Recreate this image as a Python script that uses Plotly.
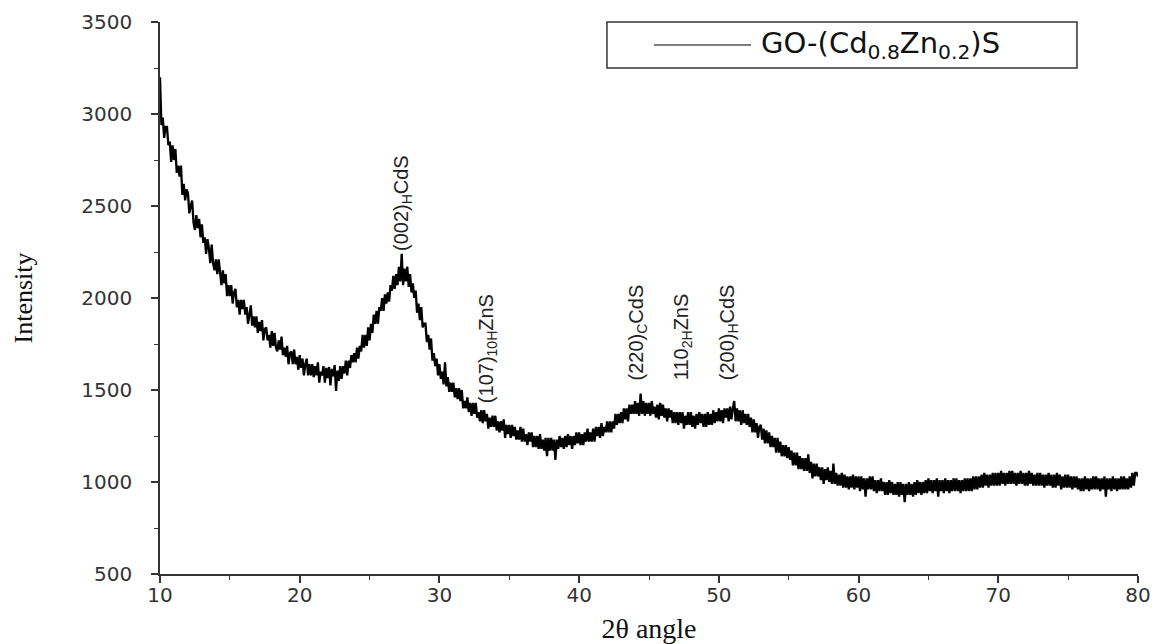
import plotly.graph_objects as go

# 2-theta positions (0.1 degree steps from 10 to 80)
two_theta = [round(10 + 0.1 * i, 1) for i in range(701)]

# Intensity values (noisy trace), 10 per degree
intensity = [
    3200, 2940, 2980, 2870, 2930, 2930, 2830, 2850, 2740, 2830,   # 10
    2750, 2810, 2680, 2720, 2660, 2720, 2560, 2620, 2530, 2590,   # 11
    2570, 2460, 2500, 2530, 2410, 2370, 2450, 2380, 2430, 2330,   # 12
    2400, 2300, 2330, 2240, 2320, 2270, 2190, 2290, 2190, 2150,   # 13
    2210, 2130, 2210, 2120, 2070, 2150, 2080, 2130, 2010, 2070,   # 14
    2010, 2070, 1970, 2030, 2050, 1950, 1990, 1910, 1990, 1940,   # 15
    1990, 1910, 1950, 1860, 1910, 1960, 1850, 1900, 1840, 1900,   # 16
    1810, 1870, 1820, 1880, 1770, 1830, 1840, 1770, 1800, 1730,   # 17
    1820, 1740, 1810, 1730, 1710, 1770, 1720, 1790, 1690, 1730,   # 18
    1680, 1740, 1640, 1700, 1710, 1640, 1720, 1640, 1680, 1610,   # 19
    1690, 1620, 1670, 1580, 1640, 1670, 1580, 1640, 1580, 1640,   # 20
    1570, 1630, 1580, 1650, 1540, 1600, 1580, 1630, 1540, 1620,   # 21
    1565, 1625, 1525, 1615, 1575, 1635, 1495, 1605, 1550, 1630,   # 22
    1560, 1630, 1590, 1660, 1580, 1660, 1620, 1690, 1650, 1700,   # 23
    1650, 1730, 1670, 1740, 1710, 1800, 1730, 1800, 1740, 1840,   # 24
    1770, 1860, 1810, 1910, 1860, 1930, 1860, 1950, 1930, 2000,   # 25
    1930, 2020, 1970, 2030, 1980, 2070, 2040, 2120, 2050, 2130,   # 26
    2070, 2170, 2090, 2240, 2070, 2160, 2090, 2170, 2060, 2130,   # 27
    2030, 2080, 2000, 2040, 1920, 1970, 1880, 1950, 1840, 1860,   # 28
    1860, 1760, 1800, 1720, 1780, 1660, 1700, 1630, 1670, 1580,   # 29
    1640, 1560, 1600, 1530, 1650, 1520, 1570, 1490, 1540, 1490,   # 30
    1540, 1460, 1510, 1450, 1510, 1440, 1500, 1400, 1440, 1400,   # 31
    1460, 1380, 1430, 1360, 1430, 1370, 1430, 1350, 1380, 1330,   # 32
    1390, 1320, 1390, 1330, 1370, 1290, 1350, 1300, 1360, 1300,   # 33
    1360, 1280, 1330, 1270, 1330, 1280, 1340, 1240, 1310, 1260,   # 34
    1310, 1240, 1310, 1250, 1300, 1230, 1280, 1230, 1300, 1220,   # 35
    1290, 1220, 1260, 1200, 1270, 1220, 1270, 1190, 1250, 1190,   # 36
    1250, 1180, 1260, 1180, 1230, 1170, 1240, 1140, 1240, 1170,   # 37
    1240, 1170, 1230, 1120, 1230, 1180, 1250, 1190, 1240, 1180,   # 38
    1250, 1190, 1260, 1200, 1250, 1180, 1250, 1200, 1270, 1210,   # 39
    1270, 1200, 1260, 1200, 1270, 1220, 1290, 1220, 1270, 1220,   # 40
    1290, 1220, 1300, 1250, 1300, 1240, 1320, 1250, 1300, 1270,   # 41
    1330, 1270, 1330, 1270, 1330, 1290, 1370, 1310, 1370, 1320,   # 42
    1380, 1320, 1400, 1340, 1400, 1330, 1420, 1370, 1420, 1370,   # 43
    1440, 1370, 1430, 1360, 1480, 1370, 1440, 1360, 1430, 1370,   # 44
    1430, 1360, 1440, 1370, 1410, 1350, 1420, 1340, 1430, 1360,   # 45
    1420, 1350, 1400, 1330, 1400, 1350, 1390, 1320, 1380, 1320,   # 46
    1380, 1310, 1380, 1320, 1380, 1290, 1360, 1310, 1380, 1310,   # 47
    1380, 1300, 1360, 1290, 1370, 1310, 1380, 1320, 1370, 1300,   # 48
    1370, 1300, 1380, 1310, 1370, 1310, 1390, 1320, 1380, 1330,   # 49
    1400, 1330, 1390, 1320, 1400, 1350, 1400, 1330, 1410, 1340,   # 50
    1400, 1440, 1330, 1400, 1330, 1390, 1310, 1390, 1320, 1370,   # 51
    1310, 1370, 1300, 1350, 1270, 1340, 1270, 1320, 1240, 1300,   # 52
    1310, 1230, 1290, 1210, 1280, 1210, 1270, 1190, 1250, 1190,   # 53
    1240, 1160, 1240, 1160, 1220, 1140, 1200, 1140, 1200, 1130,   # 54
    1190, 1120, 1170, 1090, 1160, 1090, 1160, 1070, 1140, 1070,   # 55
    1130, 1060, 1130, 1060, 1150, 1050, 1110, 1020, 1100, 1030,   # 56
    1100, 1030, 1080, 1010, 1080, 990, 1070, 1010, 1080, 1000,    # 57
    1060, 990, 1100, 990, 1050, 980, 1040, 980, 1050, 970,        # 58
    1040, 970, 1030, 960, 1030, 970, 1040, 960, 1030, 970,        # 59
    1030, 950, 1030, 960, 1020, 920, 1020, 960, 1030, 960,        # 60
    1030, 950, 1010, 940, 1010, 950, 1020, 950, 1000, 930,        # 61
    1000, 930, 1010, 940, 1000, 930, 990, 930, 1000, 920,         # 62
    1000, 930, 990, 890, 990, 930, 1000, 930, 990, 920,           # 63
    1000, 930, 1010, 940, 1000, 930, 1000, 940, 1010, 940,        # 64
    1020, 950, 1010, 940, 1010, 950, 1020, 920, 1010, 950,        # 65
    1010, 940, 1020, 950, 1010, 940, 1010, 950, 1020, 950,        # 66
    1020, 950, 1010, 940, 1010, 950, 1020, 950, 1020, 950,        # 67
    1020, 950, 1030, 960, 1030, 960, 1030, 970, 1040, 970,        # 68
    1050, 980, 1040, 970, 1040, 980, 1050, 980, 1050, 980,        # 69
    1050, 980, 1060, 990, 1050, 980, 1050, 990, 1060, 990,        # 70
    1060, 990, 1050, 980, 1050, 990, 1060, 990, 1050, 980,        # 71
    1050, 980, 1060, 990, 1050, 980, 1040, 980, 1050, 980,        # 72
    1050, 980, 1040, 970, 1040, 980, 1050, 980, 1040, 970,        # 73
    1040, 970, 1050, 980, 1040, 960, 1030, 970, 1040, 970,        # 74
    1040, 970, 1030, 960, 1030, 970, 1030, 960, 1020, 950,        # 75
    1020, 950, 1030, 960, 1020, 950, 1020, 960, 1030, 960,        # 76
    1030, 960, 1020, 950, 1020, 960, 1030, 920, 1020, 960,        # 77
    1020, 950, 1030, 960, 1020, 950, 1020, 960, 1030, 960,        # 78
    1030, 960, 1020, 960, 1030, 970, 1050, 980, 1050, 1050,       # 79
    1030,                                                         # 80
]

series_name = "GO-(Cd<sub>0.8</sub>Zn<sub>0.2</sub>)S"

peak_labels = [
    "(002)<sub>H</sub>CdS",
    "(107)<sub>10H</sub>ZnS",
    "(220)<sub>C</sub>CdS",
    "110<sub>2H</sub>ZnS",
    "(200)<sub>H</sub>CdS",
]
peak_x = [27.4, 33.4, 44.2, 47.4, 50.7]
peak_y = [2245, 1420, 1540, 1540, 1540]

x_ticks = [10, 20, 30, 40, 50, 60, 70, 80]
y_ticks = [500, 1000, 1500, 2000, 2500, 3000, 3500]

fig = go.Figure()
fig.add_trace(go.Scatter(
    x=two_theta, y=intensity, mode="lines",
    line=dict(color="black", width=2.3),
    name=series_name, showlegend=False,
))

for txt, px, py in zip(peak_labels, peak_x, peak_y):
    fig.add_annotation(
        x=px, y=py, text=txt, showarrow=False, textangle=-90,
        xanchor="center", yanchor="bottom",
        font=dict(family="Liberation Sans, Arial", size=20, color="#222"),
    )

# manual legend box
fig.add_shape(type="rect", xref="paper", yref="paper",
              x0=0.457, x1=0.9376, y0=0.9167, y1=1.0,
              line=dict(color="#333", width=1.5), fillcolor="white")
fig.add_shape(type="line", xref="paper", yref="paper",
              x0=0.5051, x1=0.6043, y0=0.9583, y1=0.9583,
              line=dict(color="black", width=1.2))
fig.add_annotation(xref="paper", yref="paper", x=0.612, y=0.9583,
                   text=series_name, showarrow=False,
                   xanchor="left", yanchor="middle",
                   font=dict(family="DejaVu Sans, Arial", size=29, color="#111"))

axis_common = dict(
    showline=True, linecolor="#333", linewidth=1.5,
    ticks="outside", ticklen=7, tickwidth=1.5, tickcolor="#333",
    showgrid=False, zeroline=False, mirror=False, automargin=False,
    tickfont=dict(family="DejaVu Sans, Arial", size=20, color="#333"),
)

fig.update_xaxes(
    range=[10, 80], tickvals=x_ticks, ticklabelstandoff=-5,
    minor=dict(ticks="outside", ticklen=4, tickwidth=1.2, tickcolor="#333", dtick=5, tick0=10, showgrid=False),
    title=dict(text="2θ angle", font=dict(family="Liberation Serif, Times New Roman", size=28, color="#111"), standoff=18),
    **axis_common,
)
fig.update_yaxes(
    range=[500, 3500], tickvals=y_ticks, ticklabelstandoff=15,
    minor=dict(ticks="outside", ticklen=4, tickwidth=1.2, tickcolor="#333", dtick=250, tick0=500, showgrid=False),
    title=dict(text="Intensity", font=dict(family="Liberation Serif, Times New Roman", size=26, color="#111"), standoff=41),
    **axis_common,
)

fig.update_layout(
    width=1160, height=644,
    margin=dict(l=160, r=22, t=22, b=70),
    paper_bgcolor="white", plot_bgcolor="white",
)

fig.write_html("out.html")
